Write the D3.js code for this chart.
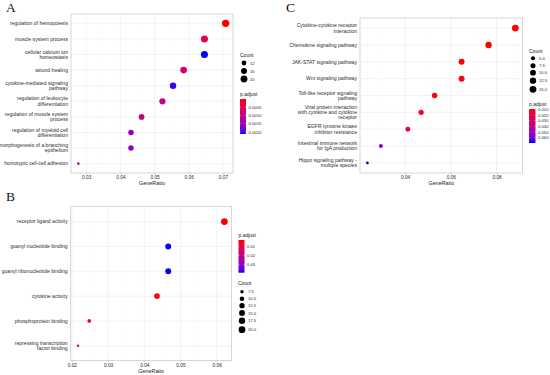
<!DOCTYPE html>
<html>
<head>
<meta charset="utf-8">
<script src="https://cdn.jsdelivr.net/npm/d3@7"></script>
<style>
  body { margin: 0; background: #fff; }
  svg { display: block; font-family: "Liberation Sans", Arial, sans-serif; }
  .ylab { fill: #2b2b2b; font-size: 5.1px; }
  .xtick { fill: #2b2b2b; font-size: 4.8px; }
  .leg-lab { fill: #2b2b2b; font-size: 4.2px; }
  .xtitle { fill: #1a1a1a; font-size: 5.4px; }
  .leg-title { fill: #1a1a1a; font-size: 5px; }
  .letter { font-family: "Liberation Serif", "DejaVu Serif", serif; font-size: 13.5px; fill: #111; }
</style>
</head>
<body>
<svg width="550" height="375"></svg>
<script>
// ---- panel A: GO biological process
var termsA = ["regulation of hemopoiesis", "muscle system process", "cellular calcium ion\nhomeostasis",
  "wound healing", "cytokine-mediated signaling\npathway", "regulation of leukocyte\ndifferentiation",
  "regulation of muscle system\nprocess", "regulation of myeloid cell\ndifferentiation",
  "morphogenesis of a branching\nepithelium", "homotypic cell-cell adhesion"];
var ratioA = [0.0708, 0.0646, 0.0646, 0.0585, 0.0554, 0.0523, 0.0462, 0.0431, 0.0431, 0.0277];
var countA = [23, 21, 21, 19, 18, 17, 15, 14, 14, 9];
var padjA = [0.00001, 0.00054, 0.00212, 0.00086, 0.00205, 0.00105, 0.00096, 0.0016, 0.0016, 0.00117];
var xTicksA = [0.03, 0.04, 0.05, 0.06, 0.07];
var countBreaksA = [12, 16, 20];
var padjBreaksA = [0.0005, 0.0010, 0.0015, 0.0020];

// ---- panel B: GO molecular function
var termsB = ["receptor ligand activity", "guanyl nucleotide binding", "guanyl ribonucleotide binding",
  "cytokine activity", "phosphoprotein binding", "repressing transcription\nfactor binding"];
var ratioB = [0.0621, 0.0466, 0.0466, 0.0435, 0.0248, 0.0217];
var countB = [20, 15, 15, 14, 8, 7];
var padjB = [0.0035, 0.0386, 0.0386, 0.0045, 0.0105, 0.014];
var xTicksB = [0.02, 0.03, 0.04, 0.05, 0.06];
var countBreaksB = [7.5, 10, 12.5, 15, 17.5, 20];
var padjBreaksB = [0.01, 0.02, 0.03];

// ---- panel C: KEGG
var termsC = ["Cytokine-cytokine receptor\ninteraction", "Chemokine signaling pathway", "JAK-STAT signaling pathway",
  "Wnt signaling pathway", "Toll-like receptor signaling\npathway",
  "Viral protein interaction\nwith cytokine and cytokine\nreceptor", "EGFR tyrosine kinase\ninhibitor resistance",
  "Intestinal immune network\nfor IgA production", "Hippo signaling pathway -\nmultiple species"];
var ratioC = [0.0882, 0.0765, 0.0647, 0.0647, 0.0529, 0.0470, 0.0412, 0.0294, 0.0235];
var countC = [15, 13, 11, 11, 9, 8, 7, 5, 4];
var padjC = [0.0095, 0.0098, 0.0102, 0.0105, 0.011, 0.0135, 0.024, 0.054, 0.069];
var xTicksC = [0.04, 0.06, 0.08];
var countBreaksC = [5, 7.5, 10, 12.5, 15];
var padjBreaksC = [0.01, 0.02, 0.03, 0.04, 0.05, 0.06];

var svg = d3.select("svg");
var defs = svg.append("defs");
var grad = defs.append("linearGradient").attr("id", "pgrad")
  .attr("x1", 0).attr("y1", 0).attr("x2", 0).attr("y2", 1);
d3.range(0, 1.0001, 0.1).forEach(function (t) {
  grad.append("stop").attr("offset", t).attr("stop-color", d3.interpolateLab("#ff0000", "#0000ff")(t));
});

function drawPanel(o) {
  var g = svg.append("g");
  var data = o.terms.map(function (t, i) {
    return { term: t, ratio: o.ratio[i], count: o.count[i], p: o.padj[i] };
  });

  // ggplot-style 5% expansion
  var ext = d3.extent(o.ratio), pad = (ext[1] - ext[0]) * 0.05;
  var x = d3.scaleLinear().domain([ext[0] - pad, ext[1] + pad]).range([o.box[0], o.box[2]]);
  var y = d3.scalePoint().domain(o.terms).range([o.box[1], o.box[3]]).padding(0.6);
  var cext = d3.extent(o.count);
  var rad = function (v) {
    return o.rr[0] + (o.rr[1] - o.rr[0]) * Math.sqrt(Math.max(0, (v - cext[0]) / (cext[1] - cext[0])));
  };
  var pext = d3.extent(o.padj);
  var col = d3.scaleLinear().domain(pext).range(["#ff0000", "#0000ff"]).interpolate(d3.interpolateLab);

  g.append("text").attr("class", "letter").attr("x", o.letterPos[0]).attr("y", o.letterPos[1]).text(o.letter);

  // minor grid
  var step = o.xTicks[1] - o.xTicks[0];
  var minors = d3.range(o.xTicks[0] - step / 2, x.domain()[1], step).filter(function (v) {
    return v > x.domain()[0];
  });
  g.selectAll(".minor").data(minors).enter().append("line")
    .attr("x1", x).attr("x2", x).attr("y1", o.box[1]).attr("y2", o.box[3])
    .attr("stroke", "#f4f4f4").attr("stroke-width", 0.3);
  g.selectAll(".gx").data(o.xTicks).enter().append("line")
    .attr("x1", x).attr("x2", x).attr("y1", o.box[1]).attr("y2", o.box[3])
    .attr("stroke", "#e6e6e6").attr("stroke-width", 0.5);
  g.selectAll(".gy").data(o.terms).enter().append("line")
    .attr("x1", o.box[0]).attr("x2", o.box[2]).attr("y1", y).attr("y2", y)
    .attr("stroke", "#e6e6e6").attr("stroke-width", 0.5);
  g.append("rect").attr("x", o.box[0]).attr("y", o.box[1])
    .attr("width", o.box[2] - o.box[0]).attr("height", o.box[3] - o.box[1])
    .attr("fill", "none").attr("stroke", "#bdbdbd").attr("stroke-width", 0.6);

  // x axis
  var xa = g.append("g").attr("transform", "translate(0," + o.box[3] + ")")
    .call(d3.axisBottom(x).tickValues(o.xTicks).tickFormat(d3.format(".2f")).tickSize(1.5).tickPadding(1.5));
  xa.select(".domain").remove();
  xa.selectAll("line").attr("stroke", "#888").attr("stroke-width", 0.4);
  xa.selectAll("text").attr("class", "xtick").attr("font-family", null).attr("font-size", null).attr("fill", null);
  g.append("text").attr("class", "xtitle").attr("text-anchor", "middle")
    .attr("x", (o.box[0] + o.box[2]) / 2).attr("y", o.box[3] + 12).text("GeneRatio");

  // y labels
  g.selectAll(".ylab").data(o.terms).enter().append("text")
    .attr("class", "ylab").attr("text-anchor", "end")
    .each(function (t) {
      var lines = t.split("\n"), el = d3.select(this);
      lines.forEach(function (ln, i) {
        el.append("tspan").attr("x", o.box[0] - 3)
          .attr("y", y(t) + (i - (lines.length - 1) / 2) * 5.2 + 1.8).text(ln);
      });
    });

  // dots
  g.selectAll(".dot").data(data).enter().append("circle")
    .attr("cx", function (d) { return x(d.ratio); })
    .attr("cy", function (d) { return y(d.term); })
    .attr("r", function (d) { return rad(d.count); })
    .attr("fill", function (d) { return col(d.p); });

  // count legend
  var cl = o.countLeg;
  g.append("text").attr("class", "leg-title").attr("x", cl.x).attr("y", cl.ty).text("Count");
  o.countBreaks.forEach(function (v, i) {
    g.append("circle").attr("cx", cl.x + 4).attr("cy", cl.ys[i]).attr("r", rad(v)).attr("fill", "#000");
    g.append("text").attr("class", "leg-lab").attr("x", cl.x + 10).attr("y", cl.ys[i] + 1.5)
      .text(d3.format(cl.fmt)(v));
  });

  // p.adjust colour bar
  var pl = o.padjLeg;
  g.append("text").attr("class", "leg-title").attr("x", pl.x).attr("y", pl.ty).text("p.adjust");
  var by = d3.scaleLinear().domain(pext).range([pl.y0, pl.y1]);
  g.append("rect").attr("x", pl.x).attr("y", pl.y0).attr("width", pl.w).attr("height", pl.y1 - pl.y0)
    .attr("fill", "url(#pgrad)");
  o.padjBreaks.forEach(function (v) {
    var yy = by(v);
    g.append("line").attr("x1", pl.x).attr("x2", pl.x + 1.2).attr("y1", yy).attr("y2", yy)
      .attr("stroke", "#fff").attr("stroke-width", 0.4);
    g.append("line").attr("x1", pl.x + pl.w - 1.2).attr("x2", pl.x + pl.w).attr("y1", yy).attr("y2", yy)
      .attr("stroke", "#fff").attr("stroke-width", 0.4);
    g.append("text").attr("class", "leg-lab").attr("x", pl.x + pl.w + 2.5).attr("y", yy + 1.5)
      .text(d3.format(pl.fmt)(v));
  });
}

drawPanel({
  letter: "A", letterPos: [6, 12], box: [71, 14, 233, 173],
  terms: termsA, ratio: ratioA, count: countA, padj: padjA, xTicks: xTicksA,
  rr: [1.3, 3.7], countBreaks: countBreaksA, padjBreaks: padjBreaksA,
  countLeg: { x: 240, ty: 57, ys: [63, 71, 79], fmt: "d" },
  padjLeg: { x: 240, ty: 96, y0: 99, y1: 134, w: 6, fmt: ".4f" }
});

drawPanel({
  letter: "B", letterPos: [6, 201], box: [70.7, 206.7, 231.7, 360.7],
  terms: termsB, ratio: ratioB, count: countB, padj: padjB, xTicks: xTicksB,
  rr: [1.3, 3.4], countBreaks: countBreaksB, padjBreaks: padjBreaksB,
  countLeg: { x: 238, ty: 285, ys: [291.7, 298.7, 305.7, 313, 320.7, 329.7], fmt: ".1f" },
  padjLeg: { x: 238.5, ty: 237, y0: 240, y1: 272.7, w: 6, fmt: ".2f" }
});

drawPanel({
  letter: "C", letterPos: [286, 12], box: [360, 18, 522.7, 173],
  terms: termsC, ratio: ratioC, count: countC, padj: padjC, xTicks: xTicksC,
  rr: [1.4, 3.4], countBreaks: countBreaksC, padjBreaks: padjBreaksC,
  countLeg: { x: 529, ty: 53, ys: [58.3, 65.7, 72.7, 80.7, 89.3], fmt: ".1f" },
  padjLeg: { x: 529, ty: 106, y0: 109, y1: 143, w: 6.5, fmt: ".3f" }
});
</script>
</body>
</html>
